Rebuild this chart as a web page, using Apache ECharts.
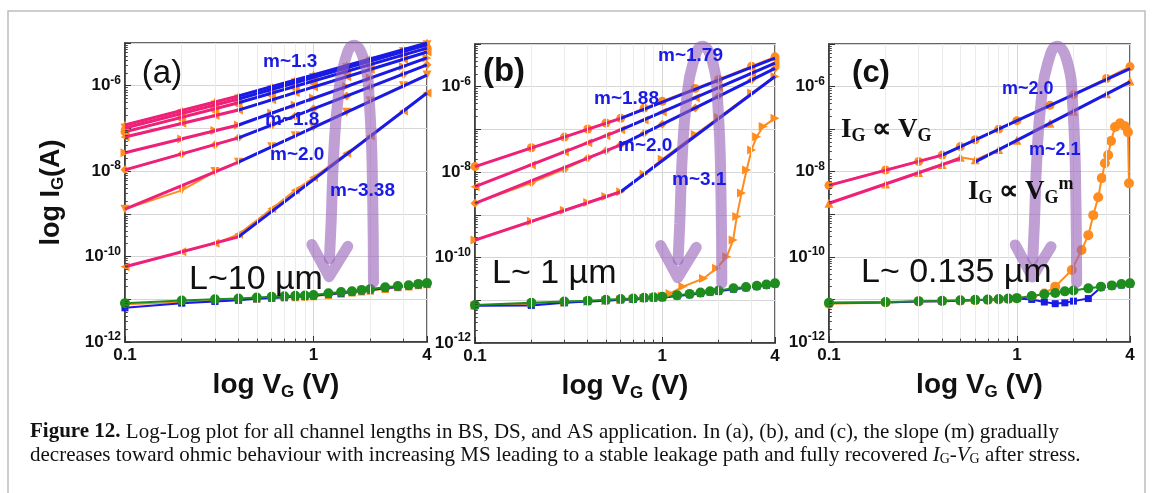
<!DOCTYPE html>
<html>
<head>
  <meta charset="utf-8" />
  <script src="https://cdn.jsdelivr.net/npm/echarts@6/dist/echarts.min.js"></script>
  <style>
    html, body { margin: 0; padding: 0; background: #fff; }
    #chart { width: 1152px; height: 493px; }
  </style>
</head>
<body>
  <div id="chart"></div>
  <script>
    // values are log10(I_G / A)
    var vMeasA = [0.1, 0.2, 0.3, 0.4, 0.6, 0.8, 1, 1.5, 2, 3, 4];
    var measA = [
      [-6.92, -6.58, -6.38, -6.24, -6.02, -5.87, -5.75, -5.53, -5.37, -5.16, -5.00],
      [-6.99, -6.65, -6.45, -6.31, -6.09, -5.93, -5.81, -5.58, -5.43, -5.20, -5.04],
      [-7.08, -6.74, -6.54, -6.40, -6.18, -6.02, -5.89, -5.66, -5.50, -5.28, -5.12],
      [-7.20, -6.88, -6.70, -6.57, -6.33, -6.16, -6.03, -5.79, -5.62, -5.38, -5.21],
      [-7.57, -7.25, -7.05, -6.92, -6.64, -6.45, -6.29, -6.02, -5.82, -5.55, -5.35],
      [-7.97, -7.60, -7.38, -7.22, -6.92, -6.71, -6.54, -6.24, -6.03, -5.73, -5.51],
      [-8.89, -8.45, -8.01, -7.79, -7.43, -7.17, -6.97, -6.62, -6.36, -6.00, -5.75],
      [-10.24, -9.89, -9.69, -9.48, -8.88, -8.45, -8.15, -7.58, -7.18, -6.59, -6.17]
    ];
    // fits: [V start, log I start, V end, log I end]
    var pinkA = [
      [0.1, -6.92, 0.4, -6.24], [0.1, -6.99, 0.4, -6.31], [0.1, -7.08, 0.4, -6.40], [0.1, -7.20, 0.4, -6.57],
      [0.1, -7.57, 0.4, -6.92], [0.1, -7.97, 0.4, -7.22], [0.1, -8.89, 0.4, -7.79], [0.1, -10.24, 0.4, -9.54]
    ];
    var blueA = [
      [0.4, -6.24, 4, -5.00], [0.4, -6.31, 4, -5.04], [0.4, -6.40, 4, -5.12], [0.4, -6.57, 4, -5.21],
      [0.4, -6.92, 4, -5.35], [0.4, -7.22, 4, -5.51], [0.4, -7.79, 4, -5.75], [0.4, -9.54, 4, -6.17]
    ];

    var vMeasB = [0.1, 0.2, 0.3, 0.4, 0.5, 0.6, 0.8, 1, 1.5, 2, 3, 4];
    var measB = [
      [-7.87, -7.43, -7.18, -6.99, -6.85, -6.74, -6.50, -6.34, -6.04, -5.83, -5.52, -5.30],
      [-8.34, -7.83, -7.53, -7.31, -7.15, -7.01, -6.78, -6.59, -6.26, -6.02, -5.69, -5.45],
      [-8.73, -8.25, -7.93, -7.67, -7.50, -7.36, -7.09, -6.88, -6.50, -6.22, -5.84, -5.57],
      [-9.59, -9.15, -8.89, -8.71, -8.57, -8.46, -8.05, -7.70, -7.12, -6.72, -6.15, -5.76]
    ];
    var pinkB = [[0.1, -7.87, 0.6, -6.74], [0.1, -8.34, 0.6, -7.01], [0.1, -8.73, 0.6, -7.36], [0.1, -9.59, 0.6, -8.46]];
    var blueB = [[0.6, -6.74, 4, -5.33], [0.6, -7.01, 4, -5.45], [0.6, -7.36, 4, -5.57], [0.6, -8.46, 4, -5.76]];

    var vMeasC = [0.1, 0.2, 0.3, 0.4, 0.5, 0.6, 0.8, 1, 1.5, 2, 3, 4];
    var measC = [
      [-8.32, -7.96, -7.76, -7.61, -7.41, -7.25, -7.00, -6.80, -6.44, -6.19, -5.81, -5.53],
      [-8.74, -8.29, -8.02, -7.83, -7.66, -7.72, -7.48, -7.26, -6.86, -6.58, -6.17, -5.87]
    ];
    var pinkC = [[0.1, -8.32, 0.4, -7.61], [0.1, -8.74, 0.5, -7.69]];
    var blueC = [[0.4, -7.61, 4, -5.58], [0.6, -7.77, 4, -5.89]];

    // recovered (after stress) curves
    var vRec = [0.1, 0.2, 0.3, 0.4, 0.5, 0.6, 0.7, 0.8, 0.9, 1, 1.2, 1.4, 1.6, 1.8, 2, 2.4, 2.8, 3.2, 3.6, 4];
    var greenA = [-11.09, -11.03, -11.00, -10.98, -10.96, -10.94, -10.93, -10.92, -10.91, -10.90, -10.86, -10.83, -10.81, -10.78, -10.76, -10.72, -10.69, -10.67, -10.64, -10.62];
    var blueRecA = [-11.20, -11.09, -11.05, -11.02, -10.99, -10.97, -10.95, -10.94, -10.93, -10.92, -10.88, -10.86, -10.83, -10.80, -10.78, -10.74, -10.71, -10.69, -10.66, -10.64];
    var orangeRecA = [-11.12, -11.07, -11.03, -11.01, -10.99, -10.97, -10.96, -10.95, -10.94, -10.93, -10.90, -10.87, -10.84, -10.82, -10.80, -10.76, -10.72, -10.70, -10.67, -10.65];
    var greenB = [-11.11, -11.06, -11.03, -11.01, -10.99, -10.97, -10.96, -10.94, -10.93, -10.92, -10.88, -10.85, -10.82, -10.79, -10.77, -10.72, -10.69, -10.66, -10.63, -10.60];
    var blueRecB = [-11.13, -11.12, -11.06, -11.03, -11.01, -10.99, -10.98, -10.96, -10.95, -10.94, -10.90, -10.87, -10.84, -10.81, -10.79, -10.74, -10.71, -10.68, -10.65, -10.62];
    var greenC = [-11.08, -11.06, -11.04, -11.03, -11.02, -11.01, -11.00, -10.99, -10.98, -10.97, -10.92, -10.88, -10.85, -10.81, -10.79, -10.74, -10.70, -10.67, -10.64, -10.62];
    var blueRecC = [-11.08, -11.07, -11.05, -11.04, -11.03, -11.02, -11.01, -11.00, -10.99, -10.98, -11.00, -11.06, -11.10, -11.08, -11.04, -10.98, -10.72, -10.69, -10.66, -10.64];

    // breakdown curves (orange) in (b) and (c)
    var vSpikeB = [0.1, 0.2, 0.3, 0.4, 0.5, 0.6, 0.7, 0.8, 0.9, 1.0, 1.1, 1.29, 1.66, 1.95, 2.21, 2.39, 2.5, 2.65, 2.82, 3.0, 3.19, 3.46, 4.0];
    var spikeB = [-11.12, -11.08, -11.05, -11.03, -11.01, -10.99, -10.97, -10.95, -10.93, -10.90, -10.84, -10.68, -10.49, -10.25, -9.98, -9.59, -9.04, -8.49, -7.95, -7.48, -7.17, -6.93, -6.74];
    var vSpikeC = [0.1, 0.2, 0.3, 0.4, 0.5, 0.6, 0.7, 0.8, 0.9, 1.0, 1.2, 1.4, 1.6, 1.96, 2.21, 2.40, 2.55, 2.71, 2.83, 2.94, 3.06, 3.17, 3.33, 3.54, 3.76, 3.90, 3.95];
    var spikeC = [-11.10, -11.07, -11.05, -11.04, -11.03, -11.02, -11.01, -11.00, -10.99, -10.97, -10.93, -10.86, -10.70, -10.31, -9.84, -9.49, -9.02, -8.60, -8.15, -7.80, -7.61, -7.28, -6.95, -6.86, -6.93, -7.07, -8.27];

    // the purple stress/recovery arrow, [V, log I]
    var arrowArc = [[2.08, -10.6], [2.06, -8.6], [1.98, -6.4], [1.85, -5.4], [1.64, -5.05], [1.46, -5.45], [1.35, -6.3], [1.28, -7.6], [1.24, -9.2], [1.215, -10.05]];
    var arrowHead = [[0.98, -9.72], [1.21, -10.47], [1.52, -9.76]];

    var ORANGE = '#ff8c1e', PINK = '#ee2079', BLUE = '#1a1ae6', GREEN = '#1e8c1e', ARROW = 'rgba(150,95,185,0.6)';
    var symA = [['triangle', 0], ['triangle', 180], ['circle', 0], ['triangle', 90], ['triangle', -90], ['diamond', 0], ['triangle', 180], ['triangle', 90]];
    var symB = [['circle', 0], ['triangle', 90], ['diamond', 0], ['triangle', -90]];
    var symC = [['circle', 0], ['triangle', 0]];

    function pts(vs, logs) {
      return vs.map(function (v, i) { return [v, Math.pow(10, logs[i])]; });
    }
    function seg(s) {
      return [[s[0], Math.pow(10, s[1])], [s[2], Math.pow(10, s[3])]];
    }

    var myChart = echarts.init(document.getElementById('chart'));
    var FONT = 'Liberation Sans';
    var SERIF = 'Liberation Serif';
    var grids = [
      { left: 125, top: 43, width: 302, height: 299 },
      { left: 475, top: 44, width: 300, height: 299 },
      { left: 829, top: 44, width: 301, height: 298 }
    ];
    var series = [];

    function dataLine(gi, data, color, sym, rot, size, width, z) {
      series.push({
        type: 'line', xAxisIndex: gi, yAxisIndex: gi, data: data, z: z,
        symbol: sym, symbolRotate: rot, symbolSize: size, showSymbol: sym !== 'none',
        itemStyle: { color: color }, lineStyle: { color: color, width: width },
        animation: false, silent: true
      });
    }

    // light minor grid and small dark ticks as markLines
    function decor(gi) {
      var grid = [], ticks = [];
      var xs = [0.2, 0.3, 0.4, 0.5, 0.6, 0.7, 0.8, 0.9, 2, 3];
      for (var e = -12; e < -5; e++) {
        for (var k = 2; k <= 9; k++) {
          var y = k * Math.pow(10, e);
          grid.push({ yAxis: y });
          ticks.push([{ coord: [0.1, y] }, { coord: [0.1035, y] }]);
        }
      }
      xs.forEach(function (x) {
        grid.push({ xAxis: x });
        ticks.push([{ coord: [x, 1e-12] }, { coord: [x, 1.2e-12] }]);
      });
      series.push({
        type: 'line', xAxisIndex: gi, yAxisIndex: gi, data: [], z: 1, silent: true, animation: false,
        markLine: { silent: true, symbol: ['none', 'none'], label: { show: false }, animation: false,
          lineStyle: { color: '#ececec', width: 1, type: 'solid' }, data: grid }
      });
      series.push({
        type: 'line', xAxisIndex: gi, yAxisIndex: gi, data: [], z: 1, silent: true, animation: false,
        markLine: { silent: true, symbol: ['none', 'none'], label: { show: false }, animation: false,
          lineStyle: { color: '#444', width: 1, type: 'solid' }, data: ticks }
      });
    }

    function panel(gi, vMeas, meas, sym, pink, blue) {
      decor(gi);
      meas.forEach(function (m, i) {
        dataLine(gi, pts(vMeas, m), ORANGE, sym[i][0], sym[i][1], 9, 2, 3);
      });
      pink.forEach(function (s) { dataLine(gi, seg(s), PINK, 'none', 0, 0, 3, 4); });
      blue.forEach(function (s) { dataLine(gi, seg(s), BLUE, 'none', 0, 0, 3, 4); });
      series.push({
        type: 'line', xAxisIndex: gi, yAxisIndex: gi, z: 6, smooth: 0.5, symbol: 'none', silent: true, animation: false,
        data: arrowArc.map(function (p) { return [p[0], Math.pow(10, p[1])]; }),
        lineStyle: { color: ARROW, width: 11, cap: 'round' }
      });
      series.push({
        type: 'line', xAxisIndex: gi, yAxisIndex: gi, z: 6, symbol: 'none', silent: true, animation: false,
        data: arrowHead.map(function (p) { return [p[0], Math.pow(10, p[1])]; }),
        lineStyle: { color: ARROW, width: 11, cap: 'round', join: 'round' }
      });
    }

    panel(0, vMeasA, measA, symA, pinkA, blueA);
    panel(1, vMeasB, measB, symB, pinkB, blueB);
    panel(2, vMeasC, measC, symC, pinkC, blueC);

    dataLine(0, pts(vRec, orangeRecA), ORANGE, 'triangle', 0, 8, 1.5, 3);
    dataLine(0, pts(vRec, blueRecA), BLUE, 'rect', 0, 7, 2, 3);
    dataLine(0, pts(vRec, greenA), GREEN, 'circle', 0, 10, 2, 3);
    dataLine(1, pts(vSpikeB, spikeB), ORANGE, 'triangle', -90, 9, 2, 3);
    dataLine(1, pts(vRec, blueRecB), BLUE, 'rect', 0, 7, 2, 3);
    dataLine(1, pts(vRec, greenB), GREEN, 'circle', 0, 10, 2, 3);
    dataLine(2, pts(vSpikeC, spikeC), ORANGE, 'circle', 0, 10, 2, 3);
    dataLine(2, pts(vRec, blueRecC), BLUE, 'rect', 0, 7, 2, 3);
    dataLine(2, pts(vRec, greenC), GREEN, 'circle', 0, 10, 2, 3);

    var xAxes = grids.map(function (g, i) {
      return {
        type: 'log', logBase: 10, gridIndex: i, min: 0.1, max: 4,
        name: '{t|log V}{s|G}{t| (V)}', nameLocation: 'middle', nameGap: 28,
        nameTextStyle: { rich: {
          t: { fontFamily: FONT, fontWeight: 'bold', fontSize: 28, color: '#111' },
          s: { fontFamily: FONT, fontWeight: 'bold', fontSize: 17, color: '#111', padding: [14, 0, 0, 0] }
        } },
        axisLine: { show: true, lineStyle: { color: '#333', width: 1.5 } },
        axisTick: { show: true, inside: true, length: 6, lineStyle: { color: '#333' } },
        axisLabel: { margin: 5, fontFamily: FONT, fontWeight: 'bold', fontSize: 17, color: '#111',
          formatter: function (v) { return String(Number(v.toPrecision(1))); } },
        splitLine: { show: true, lineStyle: { color: '#d6d6d6', width: 1 } }
      };
    });
    var yAxes = grids.map(function (g, i) {
      return {
        type: 'log', logBase: 10, gridIndex: i, min: 1e-12, max: 1e-5, interval: 1,
        name: i === 0 ? '{t|log I}{s|G}{t|(A)}' : '', nameLocation: 'middle', nameGap: 58, nameRotate: 90,
        nameTextStyle: { rich: {
          t: { fontFamily: FONT, fontWeight: 'bold', fontSize: 27, color: '#111' },
          s: { fontFamily: FONT, fontWeight: 'bold', fontSize: 17, color: '#111', padding: [14, 0, 0, 0] }
        } },
        axisLine: { show: true, lineStyle: { color: '#333', width: 1.5 } },
        axisTick: { show: true, inside: true, length: 6, lineStyle: { color: '#333' } },
        axisLabel: { margin: 4, fontFamily: FONT, fontWeight: 'bold', fontSize: 17, color: '#111',
          formatter: function (v) {
            var e = Math.round(Math.log10(v));
            return e % 2 === 0 ? '{n|10}{s|' + e + '}' : '';
          },
          rich: {
            n: { fontFamily: FONT, fontWeight: 'bold', fontSize: 17, color: '#111' },
            s: { fontFamily: FONT, fontWeight: 'bold', fontSize: 12, color: '#111', padding: [0, 0, 10, 0] }
          } },
        splitLine: { show: true, lineStyle: { color: '#d6d6d6', width: 1 } }
      };
    });

    function txt(x, y, text, size, color, weight, family, align) {
      return { type: 'text', x: x, y: y, z: 50, silent: true,
        style: { text: text, fontSize: size, fill: color || '#111', fontWeight: weight || 'normal',
          fontFamily: family || FONT, align: align || 'left', verticalAlign: 'middle' } };
    }
    var mRich = function (x, y, t, size) { return txt(x, y, t, size, BLUE, 'bold'); };
    var serifRich = {
      b: { fontFamily: SERIF, fontWeight: 'bold', fontSize: 27, fill: '#111' },
      s: { fontFamily: SERIF, fontWeight: 'bold', fontSize: 18, fill: '#111', padding: [13, 0, 0, 0] },
      u: { fontFamily: SERIF, fontWeight: 'bold', fontSize: 18, fill: '#111', padding: [0, 0, 15, 0] }
    };
    var capRich = {
      f: { fontFamily: SERIF, fontWeight: 'bold', fontSize: 21, fill: '#111' },
      i: { fontFamily: SERIF, fontStyle: 'italic', fontSize: 21, fill: '#111' },
      j: { fontFamily: SERIF, fontSize: 14, fill: '#111', padding: [9, 0, 0, 0] }
    };

    var graphic = [
      { type: 'rect', z: 0, silent: true, shape: { x: 8, y: 11, width: 1137, height: 492 },
        style: { fill: 'none', stroke: '#bdbdbd', lineWidth: 1.5 } },
      txt(162, 74, '(a)', 33, '#111', 'normal', FONT, 'center'),
      txt(504, 72, '(b)', 33, '#111', 'bold', FONT, 'center'),
      txt(871, 73, '(c)', 31, '#111', 'bold', FONT, 'center'),
      txt(189, 280, 'L~10 \u00b5m', 34),
      txt(492, 274, 'L~ 1 \u00b5m', 34),
      txt(861, 273, 'L~ 0.135 \u00b5m', 34),
      mRich(263, 62, 'm~1.3', 19), mRich(265, 120, 'm~1.8', 19), mRich(270, 155, 'm~2.0', 19), mRich(330, 191, 'm~3.38', 19),
      mRich(658, 56, 'm~1.79', 19), mRich(594, 99, 'm~1.88', 19), mRich(618, 146, 'm~2.0', 19), mRich(672, 180, 'm~3.1', 19),
      mRich(1002, 89, 'm~2.0', 18), mRich(1029, 150, 'm~2.1', 18),
      { type: 'text', x: 841, y: 130, z: 50, silent: true,
        style: { text: '{b|I}{s|G}{b| \u221d V}{s|G}', rich: serifRich, verticalAlign: 'middle' } },
      { type: 'text', x: 968, y: 192, z: 50, silent: true,
        style: { text: '{b|I}{s|G}{b| \u221d V}{s|G}{u|m}', rich: serifRich, verticalAlign: 'middle' } },
      { type: 'text', x: 30, y: 432, z: 50, silent: true,
        style: { text: '{f|Figure 12.} Log-Log plot for all channel lengths in BS, DS, and AS application. In (a), (b), and (c), the slope (m) gradually',
          fontFamily: SERIF, fontSize: 21, fill: '#111', rich: capRich, verticalAlign: 'middle' } },
      { type: 'text', x: 30, y: 455, z: 50, silent: true,
        style: { text: 'decreases toward ohmic behaviour with increasing MS leading to a stable leakage path and fully recovered {i|I}{j|G}-{i|V}{j|G} after stress.',
          fontFamily: SERIF, fontSize: 21, fill: '#111', rich: capRich, verticalAlign: 'middle' } }
    ];

    var option = {
      backgroundColor: '#fff',
      animation: false,
      grid: grids.map(function (g) {
        return { left: g.left, top: g.top, width: g.width, height: g.height, show: true,
          borderColor: '#333', borderWidth: 1.5, backgroundColor: 'transparent' };
      }),
      xAxis: xAxes,
      yAxis: yAxes,
      series: series,
      graphic: graphic
    };
    myChart.setOption(option);
  </script>
</body>
</html>
